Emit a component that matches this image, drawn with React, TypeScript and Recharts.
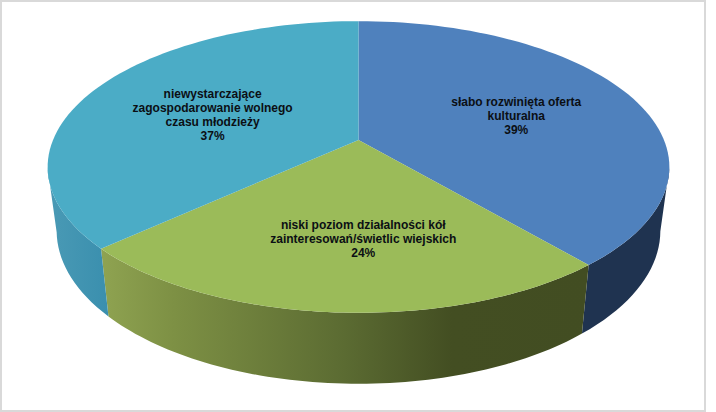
import { PieChart, Pie } from 'recharts'

const categories = [
  'słabo rozwinięta oferta kulturalna',
  'niski poziom działalności kół zainteresowań/świetlic wiejskich',
  'niewystarczające zagospodarowanie wolnego czasu młodzieży',
]
const shares = [38.8, 24.4, 36.8]
const labelLines = [
  ['słabo rozwinięta oferta', 'kulturalna'],
  ['niski poziom działalności kół', 'zainteresowań/świetlic wiejskich'],
  ['niewystarczające', 'zagospodarowanie wolnego', 'czasu młodzieży'],
]
const topColors = ['#4f81bd', '#9bbb59', '#4bacc6']
const wallStops = [
  [['0%', '#1f3350'], ['100%', '#1f3350']],
  [['0%', '#8fa351'], ['15%', '#7d9044'], ['50%', '#5b6b32'], ['72%', '#434e22'], ['100%', '#424d22']],
  [['0%', '#4a9ab5'], ['100%', '#3a8fae']],
]
// small manual shifts of the data labels, same as dragged labels in the original
const labelShift = [[0, 3], [17, 9], [7, 6.5]]

const tableData = categories.map((name, idx) => ({ name, value: shares[idx], idx }))

// fake 3D: the flat pie is pushed through a perspective so the near side gets bigger
const TILT = 0.461
const PERSP = -0.185
const WALL_SCALE_X = 0.971
const WALL_SCALE_Y = 1.05
const WALL_BOTTOM = 384
const RIM_BOTTOM = 313
const RIM_WIDEST = 167
const RAD = Math.PI / 180

function project(cx: number, cy: number, r: number, deg: number, full: number) {
  const u = r * Math.cos(deg * RAD)
  const v = -r * Math.sin(deg * RAD)
  const d = 1 + (PERSP * v) / full
  return { x: cx + u / d, y: cy + (TILT * v) / d }
}

function rimPoints(cx: number, cy: number, r: number, from: number, to: number) {
  const steps = 72
  const pts = []
  for (let i = 0; i <= steps; i++) {
    pts.push(project(cx, cy, r, from + ((to - from) * i) / steps, r))
  }
  return pts
}

const toPath = (pts: { x: number; y: number }[]) =>
  pts.map((p, i) => `${i ? 'L' : 'M'}${p.x.toFixed(2)} ${p.y.toFixed(2)}`).join(' ')

function Slice3D(props: any) {
  const { cx, cy, outerRadius, startAngle, endAngle, payload } = props
  const idx = payload.idx
  const rim = rimPoints(cx, cy, outerRadius, startAngle, endAngle)
  // only the front of the rim has a visible wall
  const front = rim.filter((p) => p.y >= RIM_WIDEST)
  const lower = front
    .map((p) => ({
      x: cx + (p.x - cx) * WALL_SCALE_X,
      y: WALL_BOTTOM + (p.y - RIM_BOTTOM) * WALL_SCALE_Y,
    }))
    .reverse()
  const xs = [...front, ...lower].map((p) => p.x)
  const gradId = `wall-${idx}`
  return (
    <g>
      <defs>
        <linearGradient
          id={gradId}
          gradientUnits="userSpaceOnUse"
          x1={idx === 2 ? 48 : Math.min(...xs)}
          x2={idx === 2 ? 108 : Math.max(...xs)}
          y1="0"
          y2="0"
        >
          {wallStops[idx].map(([offset, color]) => (
            <stop key={offset} offset={offset} stopColor={color} />
          ))}
        </linearGradient>
      </defs>
      <path d={`${toPath([...front, ...lower])} Z`} fill={`url(#${gradId})`} />
      <path d={`M${cx} ${cy} ${toPath(rim).replace('M', 'L')} Z`} fill={topColors[idx]} />
    </g>
  )
}

function SliceLabel(props: any) {
  const { cx, cy, outerRadius, midAngle, percent, index } = props
  const p = project(cx, cy, outerRadius * 0.57, midAngle, outerRadius)
  const lines = [...labelLines[index], `${Math.round(percent * 100)}%`]
  const x = p.x + labelShift[index][0]
  const top = p.y + labelShift[index][1] - ((lines.length - 1) * 14) / 2
  return (
    <text
      key={index}
      textAnchor="middle"
      dominantBaseline="central"
      fontFamily="Liberation Sans, Arial, sans-serif"
      fontSize={12}
      fontWeight={700}
      fill="#0b0f14"
    >
      {lines.map((line, i) => (
        <tspan key={i} x={x} y={top + i * 14}>
          {line}
        </tspan>
      ))}
    </text>
  )
}

export default function App() {
  return (
    <div style={{ position: 'absolute', left: 0, top: 0, width: 716, height: 412, background: '#fff' }}>
      <div
        style={{
          position: 'absolute',
          left: 0,
          top: 0,
          width: 706,
          height: 412,
          boxSizing: 'border-box',
          border: '2px solid #d9d9d9',
        }}
      />
      <div style={{ position: 'absolute', left: 0, top: 0 }}>
        <PieChart width={716} height={412} margin={{ top: 0, right: 0, bottom: 0, left: 0 }}>
          <Pie
            data={tableData}
            dataKey="value"
            nameKey="name"
            cx={358.5}
            cy={140}
            innerRadius={0}
            outerRadius={305.5}
            startAngle={90}
            endAngle={-270}
            stroke="none"
            shape={Slice3D}
            label={SliceLabel}
            labelLine={false}
            isAnimationActive={false}
          />
        </PieChart>
      </div>
    </div>
  )
}
